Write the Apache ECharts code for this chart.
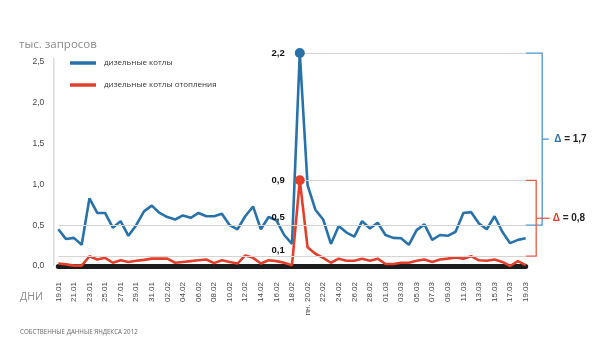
<!DOCTYPE html>
<html><head><meta charset="utf-8">
<script src="https://cdn.jsdelivr.net/npm/echarts@6/dist/echarts.min.js"></script>
<style>html,body{margin:0;padding:0;background:#fff}#c{width:600px;height:355px}</style>
</head><body><div id="c"></div>
<script>
const categories = [
  '19.01','20.01','21.01','22.01','23.01','24.01','25.01','26.01','27.01','28.01','29.01','30.01','31.01',
  '01.02','02.02','03.02','04.02','05.02','06.02','07.02','08.02','09.02','10.02','11.02','12.02','13.02','14.02',
  '15.02','16.02','17.02','18.02','19.02','20.02','21.02','22.02','23.02','24.02','25.02','26.02','27.02','28.02','29.02',
  '01.03','02.03','03.03','04.03','05.03','06.03','07.03','08.03','09.03','10.03','11.03','12.03','13.03','14.03',
  '15.03','16.03','17.03','18.03','19.03'
];
const labelOverrides = { '20.02': 'пн. 20.02' };
const seriesNames = ['дизельные котлы', 'дизельные котлы отопления'];
const blue = [
  0.45,0.33,0.345,0.26,0.83,0.65,0.65,0.47,0.55,0.37,0.50,0.67,0.74,
  0.65,0.60,0.57,0.62,0.59,0.65,0.61,0.61,0.64,0.50,0.45,0.61,0.73,0.45,
  0.60,0.56,0.38,0.27,2.61,0.99,0.69,0.57,0.27,0.49,0.41,0.36,0.55,0.46,0.53,
  0.38,0.345,0.34,0.26,0.44,0.51,0.32,0.38,0.37,0.42,0.65,0.66,0.52,0.45,
  0.61,0.42,0.28,0.32,0.34
];
const red = [
  0.03,0.02,0.005,0.005,0.12,0.08,0.10,0.04,0.07,0.05,0.065,0.075,0.09,
  0.09,0.09,0.04,0.05,0.06,0.07,0.08,0.035,0.07,0.05,0.03,0.13,0.10,0.03,
  0.07,0.06,0.04,0.01,1.05,0.23,0.15,0.10,0.04,0.09,0.065,0.065,0.09,0.065,0.09,
  0.025,0.025,0.04,0.04,0.065,0.08,0.05,0.08,0.09,0.105,0.09,0.12,0.07,0.065,
  0.08,0.05,0.0,0.06,0.01
];
const yTicks = { min: 0, max: 2.65, interval: 0.5, axisTop: 2.55 };
const peakIndex = 31;
const blueRefLow = 0.5, redRefLow = 0.12;
const annotLabels = { bluePeak: '2,2', blueLow: '0,5', redPeak: '0,9', redLow: '0,1', blueDelta: '1,7', redDelta: '0,8' };

const BLUE = '#2872a9', RED = '#e2402c', GRID = '#d4d4d4';
const FONT = 'Liberation Sans';
const valLabel = (txt, dy) => ({ show: true, position: 'left', distance: dy === undefined ? 10 : 15,
  offset: [0, dy || 0], formatter: txt, color: '#111', fontWeight: 'bold', fontSize: 9.5 });

const chart = echarts.init(document.getElementById('c'));
const option = {
  animation: false,
  textStyle: { fontFamily: FONT },
  title: { text: 'тыс. запросов', left: 19, top: 39, padding: 0,
    textStyle: { fontSize: 11.5, fontWeight: 'normal', color: '#8a8a8a', fontFamily: 'Open Sans' } },
  legend: {
    orient: 'vertical', left: 70, top: 58, padding: 0, itemGap: 12,
    itemWidth: 26, itemHeight: 3.5, icon: 'rect',
    textStyle: { fontSize: 8, color: '#333', lineHeight: 10, padding: [0,0,0,3], fontFamily: 'Open Sans' },
    data: seriesNames
  },
  grid: { left: 58.3, right: 74.3, top: 49.8, bottom: 89, containLabel: false },
  xAxis: {
    type: 'category', data: categories, boundaryGap: false, offset: 3.5,
    axisLine: { lineStyle: { color: '#1c1c1c', width: 5 } },
    axisTick: { show: false },
    axisLabel: { interval: 1, rotate: 90, margin: 12.5, fontSize: 8, color: '#444',
      formatter: v => labelOverrides[v] || v },
    splitLine: { show: false }
  },
  yAxis: {
    type: 'value', min: yTicks.min, max: yTicks.max, interval: yTicks.interval, offset: 5,
    axisLine: { show: false },
    axisTick: { show: false },
    splitLine: { show: false },
    axisLabel: { margin: 9, fontSize: 8.5, color: '#444', showMaxLabel: false,
      formatter: v => Math.abs(v / yTicks.interval - Math.round(v / yTicks.interval)) < 1e-6 ? v.toFixed(1).replace('.', ',') : '' }
  },
  series: [
    {
      name: seriesNames[0], type: 'line', data: blue, clip: false, symbol: 'none', z: 3,
      lineStyle: { color: BLUE, width: 2.6 }, itemStyle: { color: BLUE },
      markLine: {
        silent: true, symbol: 'none', label: { show: false },
        lineStyle: { color: GRID, width: 1, type: 'solid' },
        data: [
          [{ coord: [peakIndex, blue[peakIndex]] }, { coord: [categories.length - 1, blue[peakIndex]] }],
          { yAxis: blueRefLow }
        ]
      },
      markPoint: {
        silent: true,
        data: [
          { coord: [peakIndex, blue[peakIndex]], symbol: 'circle', symbolSize: 10, itemStyle: { color: BLUE },
            label: valLabel(annotLabels.bluePeak) },
          { coord: [peakIndex, blueRefLow], symbol: 'circle', symbolSize: 0, label: valLabel(annotLabels.blueLow, -8) }
        ]
      }
    },
    {
      name: seriesNames[1], type: 'line', data: red, clip: false, symbol: 'none', z: 4,
      lineStyle: { color: RED, width: 2.6 }, itemStyle: { color: RED },
      markLine: {
        silent: true, symbol: 'none', label: { show: false },
        lineStyle: { color: GRID, width: 1, type: 'solid' },
        data: [
          [{ coord: [peakIndex, red[peakIndex]] }, { coord: [categories.length - 1, red[peakIndex]] }],
          { yAxis: redRefLow }
        ]
      },
      markPoint: {
        silent: true,
        data: [
          { coord: [peakIndex, red[peakIndex]], symbol: 'circle', symbolSize: 10, itemStyle: { color: RED },
            label: valLabel(annotLabels.redPeak) },
          { coord: [peakIndex, redRefLow], symbol: 'circle', symbolSize: 0, label: valLabel(annotLabels.redLow, -6) }
        ]
      }
    }
  ]
};
chart.setOption(option);

const xl = chart.convertToPixel({ xAxisIndex: 0 }, 0) - 5;
const xr = chart.convertToPixel({ xAxisIndex: 0 }, categories.length - 1);
const py = v => chart.convertToPixel({ yAxisIndex: 0 }, v);
const b1 = py(blue[peakIndex]), b2 = py(blueRefLow), bm = (b1 + b2) / 2;
const r1 = py(red[peakIndex]), r2 = py(redRefLow), rm = (r1 + r2) / 2;
const bx = xr + 16.5, rx = xr + 10.5;
const deltaText = (col, val) => ({
  text: '{d|Δ}{v| = ' + val + '}',
  rich: {
    d: { fill: col, fontWeight: 'bold', fontSize: 10, fontFamily: FONT },
    v: { fill: '#222', fontWeight: 'bold', fontSize: 10, fontFamily: FONT }
  },
  verticalAlign: 'middle'
});
chart.setOption({
  graphic: [
    { type: 'line', silent: true, z: 1, shape: { x1: xl + 0.5, y1: py(yTicks.axisTop), x2: xl + 0.5, y2: py(0) },
      style: { stroke: '#c8c8c8', lineWidth: 1 } },
    { type: 'polyline', silent: true, shape: { points: [[xr, b1], [bx, b1], [bx, b2], [xr, b2]] },
      style: { stroke: '#4f93c9', lineWidth: 1.3, fill: null } },
    { type: 'line', silent: true, shape: { x1: bx, y1: bm, x2: bx + 6.5, y2: bm },
      style: { stroke: '#4f93c9', lineWidth: 1.3 } },
    { type: 'text', silent: true, x: bx + 12, y: bm, style: deltaText(BLUE, annotLabels.blueDelta) },
    { type: 'polyline', silent: true, shape: { points: [[xr, r1], [rx, r1], [rx, r2], [xr, r2]] },
      style: { stroke: '#e65a48', lineWidth: 1.3, fill: null } },
    { type: 'line', silent: true, shape: { x1: rx, y1: rm, x2: rx + 13.5, y2: rm },
      style: { stroke: '#e65a48', lineWidth: 1.3 } },
    { type: 'text', silent: true, x: rx + 16.5, y: rm, style: deltaText(RED, annotLabels.redDelta) },
    { type: 'text', silent: true, left: 20, top: 292,
      style: { text: 'ДНИ', fill: '#8a8a8a', fontSize: 10.5, fontFamily: 'Open Sans' } },
    { type: 'text', silent: true, left: 20, top: 329,
      style: { text: 'СОБСТВЕННЫЕ ДАННЫЕ ЯНДЕКСА 2012', fill: '#666', fontSize: 6.2, fontFamily: 'Open Sans' } }
  ]
});
</script>
</body></html>
